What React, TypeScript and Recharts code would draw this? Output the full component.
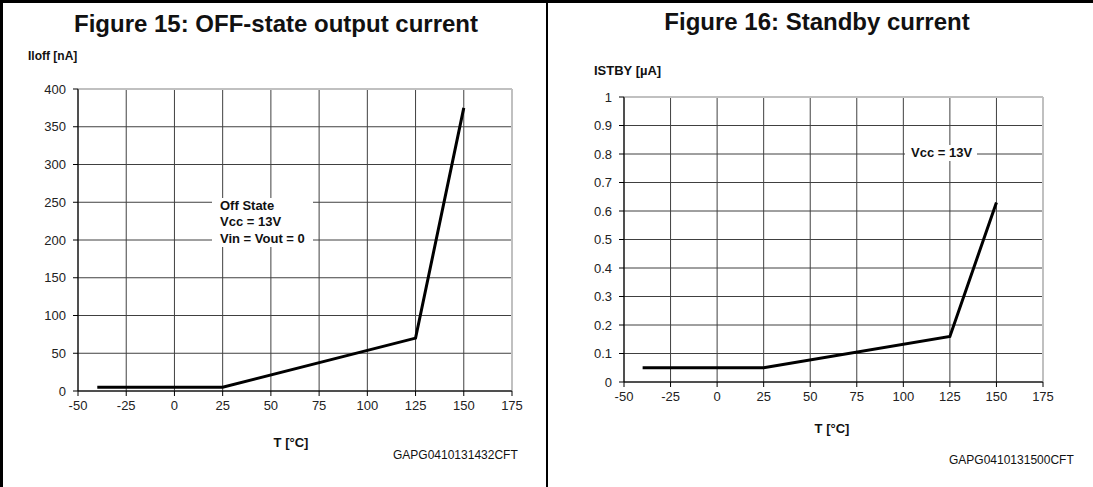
import React from 'react';
import {CartesianGrid, Line, LineChart, ReferenceLine, XAxis, YAxis} from "recharts";

const tempTicks = [-50, -25, 0, 25, 50, 75, 100, 125, 150, 175];

const offTemps = [-40, 25, 125, 150];
const offCurrent = [5, 5, 70, 375];
const offTicks = [0, 50, 100, 150, 200, 250, 300, 350, 400];

const stbyTemps = [-40, 25, 125, 150];
const stbyCurrent = [0.05, 0.05, 0.16, 0.63];
const stbyTicks = [0, 0.1, 0.2, 0.3, 0.4, 0.5, 0.6, 0.7, 0.8, 0.9, 1];

const offData = offTemps.map((t, i) => ({t, v: offCurrent[i]}));
const stbyData = stbyTemps.map((t, i) => ({t, v: stbyCurrent[i]}));

const FONT = "Arial, 'Liberation Sans', sans-serif";
const tickStyle = {fill: "#222", fontSize: 13, fontFamily: FONT};

const Txt = ({x, y, size = 12, bold = false, center = false, bg = false, children}: any) => (
    <div style={{
        position: "absolute", left: x, top: y, fontSize: size, fontFamily: FONT,
        fontWeight: bold ? "bold" : "normal", color: "#111", whiteSpace: "nowrap",
        transform: center ? "translateX(-50%)" : undefined, lineHeight: 1.15,
        background: bg ? "#fff" : undefined,
    }}>{children}</div>
);

const Chart = ({data, yMax, yTicks, width, margin}: any) => (
    <LineChart width={width} height={487} data={data} margin={margin}>
        <CartesianGrid stroke="#404040" strokeWidth={1}/>
        <ReferenceLine y={yMax} stroke="#c0c0c0" strokeWidth={2}/>
        <ReferenceLine x={175} stroke="#c0c0c0" strokeWidth={2}/>
        <XAxis dataKey="t" type="number" domain={[-50, 175]} ticks={tempTicks} height={30}
               axisLine={{stroke: "#000"}} tickLine={{stroke: "#000"}} tickSize={5} tickMargin={5}
               tick={tickStyle} interval={0}/>
        <YAxis type="number" domain={[0, yMax]} ticks={yTicks} width={40}
               axisLine={{stroke: "#000"}} tickLine={{stroke: "#000"}} tickSize={5} tickMargin={7}
               tick={tickStyle} interval={0}/>
        <Line type="linear" dataKey="v" stroke="#000" strokeWidth={3} dot={false} isAnimationActive={false}/>
    </LineChart>
);

const App = () => {
    return (
        <div style={{position: "fixed", left: 0, top: 0, width: 1093, height: 487, background: "#fff", overflow: "hidden"}}>
            <div style={{position: "absolute", left: 0, top: 0}}>
                <Chart data={offData} yMax={400} yTicks={offTicks} width={547}
                       margin={{top: 89, right: 35, bottom: 66, left: 38}}/>
            </div>
            <div style={{position: "absolute", left: 547, top: 0}}>
                <Chart data={stbyData} yMax={1} yTicks={stbyTicks} width={546}
                       margin={{top: 97, right: 50, bottom: 75, left: 37}}/>
            </div>

            <div style={{position: "absolute", left: 0, top: 0, width: 1093, height: 3, background: "#000"}}/>
            <div style={{position: "absolute", left: 0, top: 0, width: 3, height: 487, background: "#000"}}/>
            <div style={{position: "absolute", left: 546, top: 0, width: 2, height: 487, background: "#000"}}/>

            <Txt x={276} y={10} size={24} bold center>Figure 15: OFF-state output current</Txt>
            <Txt x={817} y={8} size={24} bold center>Figure 16: Standby current</Txt>

            <Txt x={28} y={50} bold>Iloff [nA]</Txt>
            <Txt x={594} y={64} size={13} bold>ISTBY [µA]</Txt>

            <Txt x={291} y={436} size={13} bold center>T [°C]</Txt>
            <Txt x={832} y={422} size={13} bold center>T [°C]</Txt>

            <Txt x={393} y={449}>GAPG0410131432CFT</Txt>
            <Txt x={949} y={454}>GAPG0410131500CFT</Txt>

            <div style={{position: "absolute", left: 212, top: 198, width: 101, height: 47, background: "#fff"}}/>
            <Txt x={220} y={199} size={13} bold>Off State</Txt>
            <Txt x={220} y={215} size={13} bold>Vcc = 13V</Txt>
            <Txt x={220} y={232} size={13} bold bg>Vin = Vout = 0</Txt>

            <div style={{position: "absolute", left: 905, top: 145, width: 72, height: 16, background: "#fff"}}/>
            <Txt x={911} y={146} size={13} bold>Vcc = 13V</Txt>
        </div>
    );
};

export default App;
